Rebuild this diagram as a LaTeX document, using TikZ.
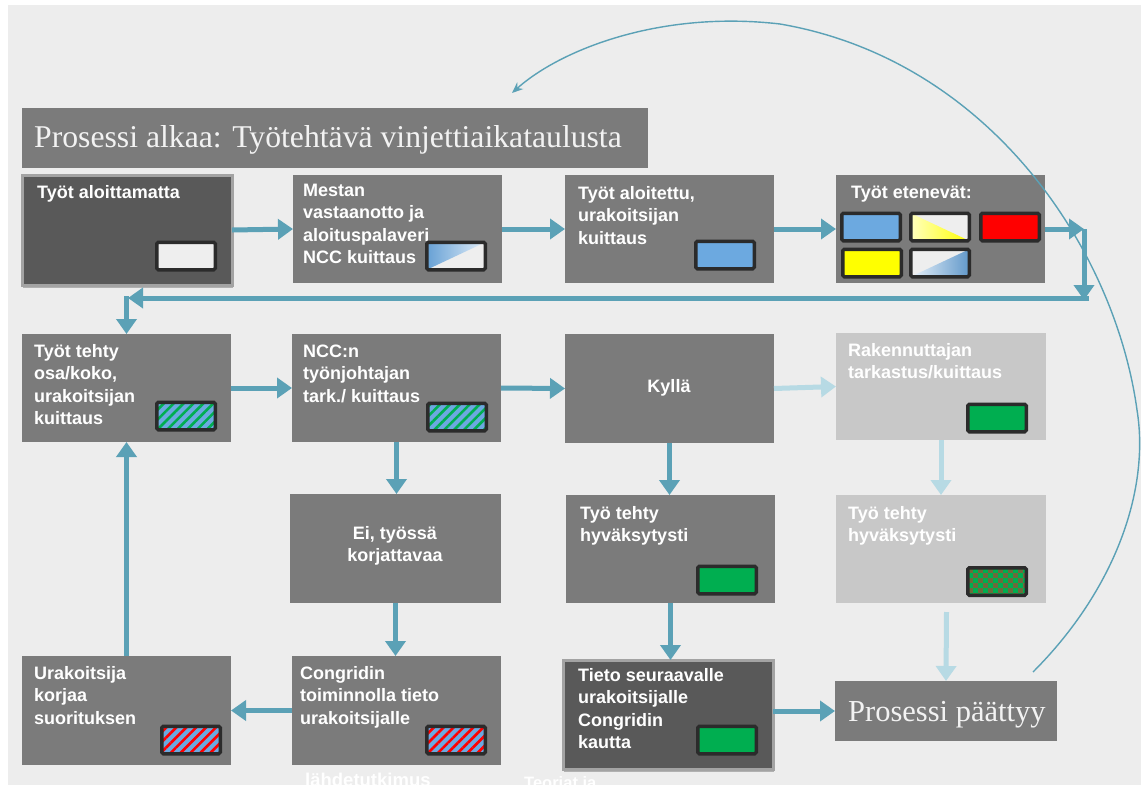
\documentclass[tikz,border=0pt]{standalone}
\usepackage{fontspec}
\newfontfamily\sansx{Liberation Sans}
\newfontfamily\serifx{Liberation Serif}
\usetikzlibrary{arrows.meta,patterns.meta,shadows}
\definecolor{bgc}{HTML}{EDEDED}
\definecolor{boxc}{HTML}{7B7B7B}
\definecolor{darkc}{HTML}{595959}
\definecolor{darkb}{HTML}{A3A3A3}
\definecolor{lightc}{HTML}{C8C8C8}
\definecolor{arrc}{HTML}{5BA1B6}
\definecolor{larrc}{HTML}{B7DAE4}
\definecolor{swb}{HTML}{2B2B2B}
\definecolor{swblue}{HTML}{6CA9E0}
\definecolor{swgreen}{HTML}{00AE50}
\definecolor{swred}{HTML}{FF0000}
\definecolor{swyellow}{HTML}{FFFF00}
\definecolor{swwhite}{HTML}{EEEEEE}
\definecolor{swolive}{HTML}{6E6A3C}
\definecolor{titletext}{HTML}{F2F2F2}
\newcommand\myst{\rule{0pt}{15pt}}
\begin{document}
\begin{tikzpicture}[x=1pt,y=-1pt,
  bx/.style={anchor=north west, inner sep=0pt, outer sep=0pt, fill=boxc},
  dk/.style={bx, fill=darkc, draw=darkb, line width=3pt,
     drop shadow={shadow xshift=1pt, shadow yshift=-3pt, opacity=0.25, fill=black}},
  lt/.style={bx, fill=lightc},
  tx/.style={anchor=north west, inner sep=0pt, align=left, text=white,
     font=\sansx\bfseries\fontsize{18pt}{22.5pt}\selectfont},
  ctx/.style={inner sep=0pt, align=center, text=white,
     font=\sansx\bfseries\fontsize{18pt}{22.5pt}\selectfont},
  sertx/.style={anchor=base west, inner sep=0pt, text=titletext,
     font=\serifx\fontsize{30.5pt}{36pt}\selectfont},
  sw/.style={draw=swb, line width=3.5pt, rounded corners=1.5pt,
     minimum width=58.5pt, minimum height=27.5pt, inner sep=0pt, outer sep=0pt},
  arr/.style={draw=arrc, line width=5pt, -{Triangle[length=15pt,width=20pt]}},
  larr/.style={draw=larrc, line width=5pt, -{Triangle[length=15pt,width=20pt]}},
  curv/.style={draw=arrc, line width=1.4pt, -{Stealth[length=11pt,width=9pt]}}
]
\useasboundingbox (0,0) rectangle (1141,785);
\fill[white] (0,0) rectangle (1141,785);
\fill[bgc] (8,5) rectangle (1141,785);

% title
\node[bx, minimum width=626pt, minimum height=60pt] (title) at (22,108) {};
\node[sertx, font=\serifx\fontsize{31.7pt}{36pt}\selectfont] (titlet) at (34,147) {Prosessi alkaa: Työtehtävä vinjettiaikataulusta};

% row 1
\node[dk, minimum width=210pt, minimum height=110pt] (A) at (22,175) {};
\node[bx, minimum width=209pt, minimum height=108pt] (B) at (293,175) {};
\node[bx, minimum width=209pt, minimum height=108pt] (C) at (565,175) {};
\node[bx, minimum width=209pt, minimum height=108pt] (D) at (836,175) {};
% row 2
\node[bx, minimum width=209pt, minimum height=108pt] (E) at (22,334) {};
\node[bx, minimum width=209pt, minimum height=108pt] (F) at (292,334) {};
\node[bx, minimum width=209pt, minimum height=109pt] (G) at (565,334) {};
\node[lt, minimum width=210pt, minimum height=107pt] (H) at (836,333) {};
% row 3
\node[bx, minimum width=211pt, minimum height=109pt] (I) at (290,494) {};
\node[bx, minimum width=209pt, minimum height=108pt] (J) at (566,495) {};
\node[lt, minimum width=210pt, minimum height=108pt] (K) at (836,495) {};
% row 4
\node[bx, minimum width=209pt, minimum height=109pt] (L) at (22,656) {};
\node[bx, minimum width=209pt, minimum height=109pt] (M) at (292,656) {};
\node[dk, minimum width=210pt, minimum height=109pt] (N) at (563,660) {};
\node[bx, minimum width=222pt, minimum height=60pt] (O) at (835,681) {};

% texts
\node[tx] (At) at (37,183) {\myst Työt aloittamatta};
\node[tx] (Bt) at (303,181) {\myst Mestan\\vastaanotto ja\\aloituspalaveri\\NCC kuittaus};
\node[tx] (Ct) at (578,184) {\myst Työt aloitettu,\\urakoitsijan\\kuittaus};
\node[tx] (Dt) at (851,183) {\myst Työt etenevät:};
\node[tx] (Et) at (34,342) {\myst Työt tehty\\osa/koko,\\urakoitsijan\\kuittaus};
\node[tx] (Ft) at (303,342) {\myst NCC:n\\työnjohtajan\\tark./ kuittaus};
\node[ctx] (Gt) at (669,388) {Kyllä};
\node[tx] (Ht) at (848,341) {\myst Rakennuttajan\\tarkastus/kuittaus};
\node[ctx] (It) at (395,546) {Ei, työssä\\korjattavaa};
\node[tx] (Jt) at (580,504) {\myst Työ tehty\\hyväksytysti};
\node[tx] (Kt) at (848,504) {\myst Työ tehty\\hyväksytysti};
\node[tx] (Lt) at (34,664) {\myst Urakoitsija\\korjaa\\suorituksen};
\node[tx] (Mt) at (300,664) {\myst Congridin\\toiminnolla tieto\\urakoitsijalle};
\node[tx] (Nt) at (578,666) {\myst Tieto seuraavalle\\urakoitsijalle\\Congridin\\kautta};
\node[sertx] (Ot) at (848,721) {Prosessi päättyy};

% swatches
\node[sw, fill=swwhite] (As) at (186,256) {};
% B gradient swatch
\fill[swwhite] (426.75,242.25) rectangle (485.25,269.75);
\shade[left color=swblue!95!black, right color=swblue!20!white] (426.75,269.75) -- (426.75,242.25) -- (485.25,242.25) -- cycle;
\node[sw] (Bs) at (456,256) {};
\node[sw, fill=swblue] (Cs) at (725,255) {};
% D swatches
\node[sw, fill=swblue] (Ds1) at (871,227) {};
\fill[swwhite] (910.75,213.25) rectangle (969.25,240.75);
\shade[left color=swyellow!25!white, right color=swyellow] (910.75,213.25) -- (969.25,240.75) -- (910.75,240.75) -- cycle;
\node[sw] (Ds2) at (940,227) {};
\node[sw, fill=swred] (Ds3) at (1010,227) {};
\node[sw, fill=swyellow] (Ds4) at (872,263) {};
\fill[swwhite] (910.75,249.25) rectangle (969.25,276.75);
\shade[left color=swblue!15!white, right color=swblue!90!black] (910.75,276.75) -- (969.25,276.75) -- (969.25,249.25) -- cycle;
\node[sw] (Ds5) at (940,263) {};
% hatched
\node[sw, preaction={fill=swblue}, pattern={Lines[angle=45,distance=7pt,line width=2.6pt]}, pattern color=swgreen] (Es) at (186,416) {};
\node[sw, preaction={fill=swblue}, pattern={Lines[angle=45,distance=7pt,line width=2.6pt]}, pattern color=swgreen] (Fs) at (457,417) {};
\node[sw, fill=swgreen] (Hs) at (997,418) {};
\node[sw, fill=swgreen] (Js) at (727,580) {};
% checker swatch
\fill[swolive] (967.75,567.75) rectangle (1026.25,595.25);
\begin{scope}
\clip (967.75,567.75) rectangle (1026.25,595.25);
\foreach \i in {0,...,12} {
  \foreach \j in {0,...,6} {
    \ifodd\numexpr\i+\j\relax
      \fill[swgreen] (967.75+\i*5,567.75+\j*5) rectangle ++(5,5);
    \fi
  }
}
\end{scope}
\node[sw] (Ks) at (997,581.5) {};
\node[sw, preaction={fill=swblue}, pattern={Lines[angle=45,distance=7pt,line width=2.6pt]}, pattern color=swred] (Ls) at (191,740) {};
\node[sw, preaction={fill=swblue}, pattern={Lines[angle=45,distance=7pt,line width=2.6pt]}, pattern color=swred] (Ms) at (456,740) {};
\node[sw, fill=swgreen] (Ns) at (727,740) {};

% connectors
\coordinate (p1) at (1084,229);
\coordinate (p2) at (1084,300);
\coordinate (p3) at (1089,298);
\coordinate (p4) at (128,298);
\coordinate (p5) at (126.5,296);
\coordinate (k1) at (946.5,612);
\draw[arr] (A.east) -- (B.west);
\draw[arr] (B.east) -- (C.west);
\draw[arr] (C.east) -- (D.west);
\draw[arr] (D.east) -- (p1);
\draw[arr] (p1) -- (p2);
\draw[arr] (p3) -- (p4);
\draw[arr] (p5) -- (E.north);
\draw[arr] (E.east) -- (F.west);
\draw[arr] (F.east) -- (G.west);
\draw[larr] (G.east) -- (H.west);
\draw[arr] (F.south) -- (F.south |- I.north);
\draw[arr] (G.south) -- (G.south |- J.north);
\draw[larr] (H.south) -- (K.north);
\draw[arr] (I.south) -- (I.south |- M.north);
\draw[arr] (J.south) -- (J.south |- N.north);
\draw[larr] (k1) -- (O.north);
\draw[arr] (M.west) -- (M.west -| L.east);
\draw[arr] (L.north) -- (E.south);
\draw[arr] (O.west -| N.east) -- (O.west);

% big return curve
\coordinate (cs) at (1033,672);
\coordinate (ce) at (512,93);
\draw[curv] (cs) .. controls (1115,590) and (1150,490) .. (1137,410)
  .. controls (1115,250) and (990,60) .. (780,24)
  .. controls (660,10) and (560,50) .. (ce);

% cut-off texts at bottom
\node[anchor=base west, inner sep=0pt, text=white, font=\sansx\bfseries\fontsize{18.5pt}{22pt}\selectfont] (bt1) at (305,786) {lähdetutkimus};
\node[anchor=base west, inner sep=0pt, text=white, font=\sansx\bfseries\fontsize{16.5pt}{20pt}\selectfont] (bt2) at (524,788) {Teoriat ja};
\end{tikzpicture}
\end{document}
